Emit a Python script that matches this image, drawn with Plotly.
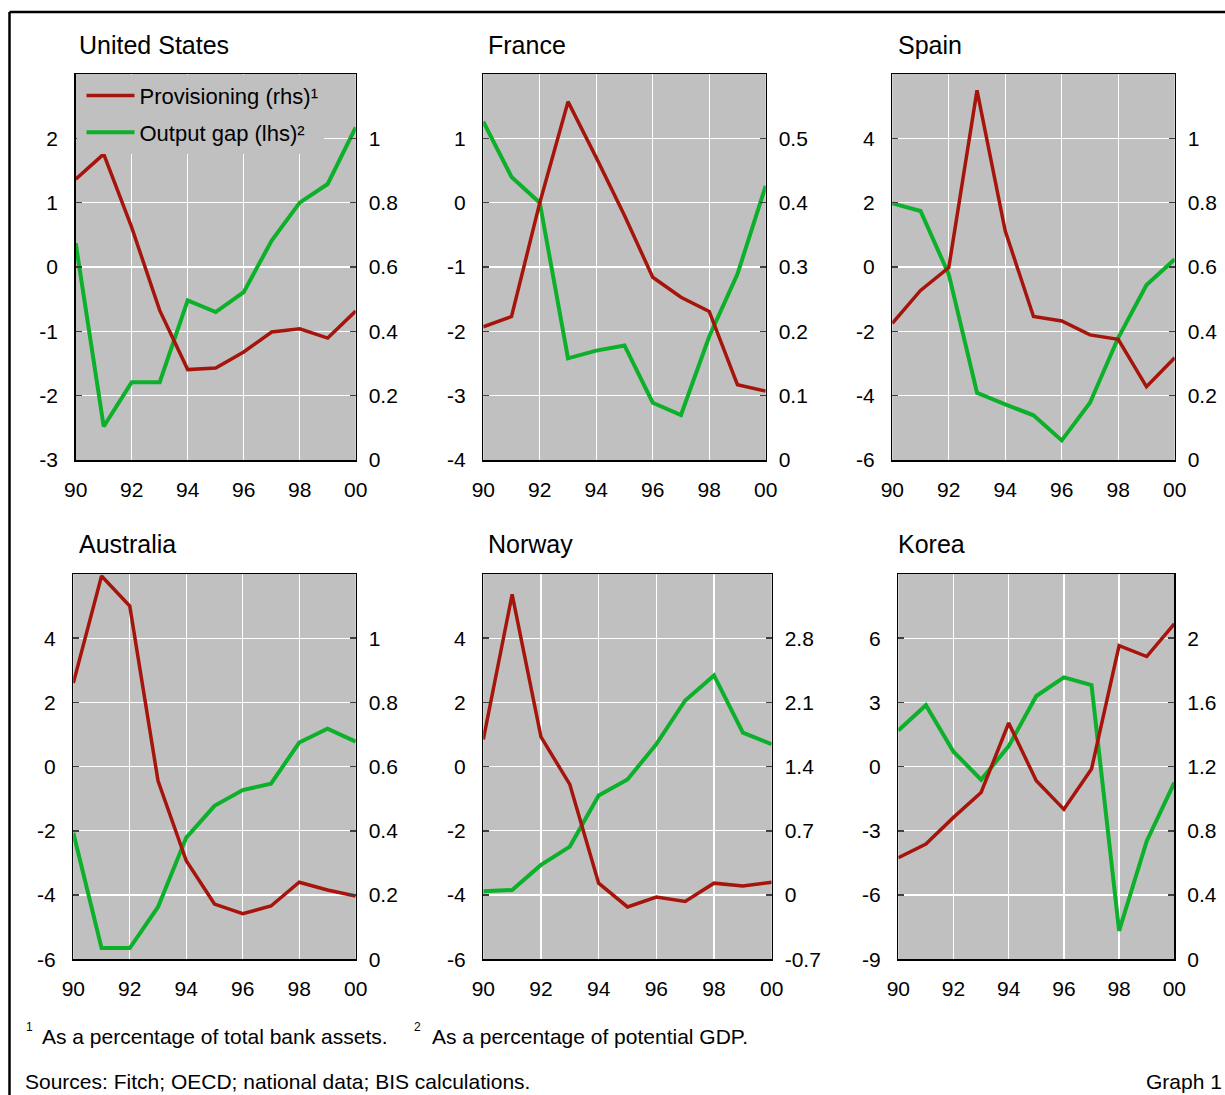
import plotly.graph_objects as go

W, H = 1225, 1095
FONT = "Arial, Liberation Sans, sans-serif"
RED = "#A5150C"
GREEN = "#0DB02B"
BG = "#c0c0c0"

years = list(range(1990, 2001))
x_tickvals = [1990, 1992, 1994, 1996, 1998, 2000]
x_ticktext = ["90", "92", "94", "96", "98", "00"]

countries = ["United States", "France", "Spain", "Australia", "Norway", "Korea"]

# Output gap (lhs), % of potential GDP
us_gap = [0.37, -2.48, -1.79, -1.79, -0.52, -0.70, -0.39, 0.41, 1.00, 1.29, 2.17]
fr_gap = [1.26, 0.40, 0.00, -2.42, -2.30, -2.22, -3.11, -3.30, -2.08, -1.11, 0.26]
es_gap = [1.98, 1.74, -0.23, -3.91, -4.27, -4.61, -5.39, -4.22, -2.20, -0.56, 0.24]
au_gap = [-2.06, -5.65, -5.65, -4.37, -2.21, -1.22, -0.73, -0.53, 0.75, 1.18, 0.78]
no_gap = [-3.88, -3.84, -3.06, -2.49, -0.90, -0.40, 0.70, 2.06, 2.84, 1.06, 0.70]
kr_gap = [1.69, 2.87, 0.70, -0.61, 0.96, 3.30, 4.17, 3.81, -7.67, -3.48, -0.75]

# Provisioning (rhs), % of total bank assets
us_prov = [0.873, 0.951, 0.723, 0.465, 0.281, 0.286, 0.336, 0.398, 0.408, 0.379, 0.463]
fr_prov = [0.207, 0.223, 0.400, 0.557, 0.470, 0.380, 0.284, 0.253, 0.231, 0.117, 0.107]
es_prov = [0.425, 0.527, 0.598, 1.149, 0.712, 0.446, 0.432, 0.389, 0.375, 0.228, 0.318]
au_prov = [0.860, 1.194, 1.100, 0.556, 0.307, 0.172, 0.142, 0.166, 0.240, 0.216, 0.197]
no_prov = [1.696, 3.278, 1.724, 1.206, 0.130, -0.129, -0.022, -0.070, 0.130, 0.100, 0.140]
kr_prov = [0.633, 0.718, 0.884, 1.039, 1.472, 1.112, 0.934, 1.185, 1.954, 1.886, 2.090]

gaps = [us_gap, fr_gap, es_gap, au_gap, no_gap, kr_gap]
provs = [us_prov, fr_prov, es_prov, au_prov, no_prov, kr_prov]

left_ranges = [[-3, 3], [-4, 2], [-6, 6], [-6, 6], [-6, 6], [-9, 9]]
left_ticks = [
    [-3, -2, -1, 0, 1, 2],
    [-4, -3, -2, -1, 0, 1],
    [-6, -4, -2, 0, 2, 4],
    [-6, -4, -2, 0, 2, 4],
    [-6, -4, -2, 0, 2, 4],
    [-9, -6, -3, 0, 3, 6],
]
right_ranges = [[0, 1.2], [0, 0.6], [0, 1.2], [0, 1.2], [-0.7, 3.5], [0, 2.4]]
right_ticks = [
    [0, 0.2, 0.4, 0.6, 0.8, 1.0],
    [0, 0.1, 0.2, 0.3, 0.4, 0.5],
    [0, 0.2, 0.4, 0.6, 0.8, 1.0],
    [0, 0.2, 0.4, 0.6, 0.8, 1.0],
    [-0.7, 0, 0.7, 1.4, 2.1, 2.8],
    [0, 0.4, 0.8, 1.2, 1.6, 2.0],
]
right_labels = [
    ["0", "0.2", "0.4", "0.6", "0.8", "1"],
    ["0", "0.1", "0.2", "0.3", "0.4", "0.5"],
    ["0", "0.2", "0.4", "0.6", "0.8", "1"],
    ["0", "0.2", "0.4", "0.6", "0.8", "1"],
    ["-0.7", "0", "0.7", "1.4", "2.1", "2.8"],
    ["0", "0.4", "0.8", "1.2", "1.6", "2"],
]

# panel boxes in pixels: (x0, x1, y0_top, y1_bottom)
boxes = [
    (75.7, 355.7, 74, 460),
    (483.3, 765.7, 74, 460),
    (892.3, 1174.7, 74, 460),
    (73.3, 355.7, 574, 959.3),
    (483.3, 771.7, 574, 959.3),
    (898.3, 1174.3, 574, 959.3),
]
title_pos = [(77, 45), (486, 45), (896, 45), (77, 544), (486, 544), (896, 544)]


def px(x):
    return x / W


def py(y):
    return 1 - y / H


fig = go.Figure()
layout = dict(
    width=W, height=H,
    margin=dict(l=0, r=0, t=0, b=0),
    paper_bgcolor="white",
    plot_bgcolor=BG,
    font=dict(family=FONT, size=21, color="black"),
    showlegend=True,
    template="none",
)

tickfont = dict(family=FONT, size=21, color="black")

for i in range(6):
    n = i + 1
    xa = "xaxis" if n == 1 else f"xaxis{n}"
    xr = "x" if n == 1 else f"x{n}"
    yl_n, yr_n = 2 * n - 1, 2 * n
    yl = "yaxis" if yl_n == 1 else f"yaxis{yl_n}"
    ylr = "y" if yl_n == 1 else f"y{yl_n}"
    yr = f"yaxis{yr_n}"
    yrr = f"y{yr_n}"
    x0, x1, ytop, ybot = boxes[i]

    layout[xa] = dict(
        domain=[px(x0), px(x1)], anchor=ylr, range=[1990, 2000],
        tickmode="array", tickvals=x_tickvals, ticktext=x_ticktext,
        showgrid=True, gridcolor="white", gridwidth=1.2,
        showline=True, linecolor="black", linewidth=1.5, mirror=True,
        ticks="", ticklabelstandoff=10, tickfont=tickfont,
        zeroline=False, automargin=False, fixedrange=True,
    )
    layout[yl] = dict(
        domain=[py(ybot), py(ytop)], anchor=xr, range=left_ranges[i],
        tickmode="array", tickvals=left_ticks[i],
        ticktext=[str(v) for v in left_ticks[i]],
        showgrid=True, gridcolor="white", gridwidth=1.2,
        showline=True, linecolor="black", linewidth=1.5, mirror=True,
        ticks="inside", ticklen=6, tickwidth=1.5, tickcolor="#404040",
        ticklabelstandoff=12, tickfont=tickfont,
        zeroline=False, automargin=False, fixedrange=True,
    )
    layout[yr] = dict(
        overlaying=ylr, side="right", anchor=xr, range=right_ranges[i],
        tickmode="array", tickvals=right_ticks[i], ticktext=right_labels[i],
        showgrid=False, showline=False,
        ticks="inside", ticklen=6, tickwidth=1.5, tickcolor="#404040",
        ticklabelstandoff=12, tickfont=tickfont,
        zeroline=False, automargin=False, fixedrange=True,
    )

    fig.add_trace(go.Scatter(
        x=years, y=provs[i], xaxis=xr, yaxis=yrr, mode="lines",
        line=dict(color=RED, width=3.5),
        name="Provisioning (rhs)¹", legendgroup="prov", showlegend=(n == 1),
        hoverinfo="skip",
    ))
    fig.add_trace(go.Scatter(
        x=years, y=gaps[i], xaxis=xr, yaxis=ylr, mode="lines",
        line=dict(color=GREEN, width=4),
        name="Output gap (lhs)²", legendgroup="gap", showlegend=(n == 1),
        hoverinfo="skip",
    ))

annotations = []
for i, name in enumerate(countries):
    tx, ty = title_pos[i]
    annotations.append(dict(
        text=name, xref="paper", yref="paper", x=px(tx), y=py(ty),
        xanchor="left", yanchor="middle", showarrow=False,
        font=dict(family=FONT, size=25, color="black"),
    ))

foot = [
    ("1", 24, 1027, 12, "left"),
    ("As a percentage of total bank assets.", 40, 1036, 21, "left"),
    ("2", 412, 1027, 12, "left"),
    ("As a percentage of potential GDP.", 430, 1036, 21, "left"),
    ("Sources: Fitch; OECD; national data; BIS calculations.", 23, 1081, 21, "left"),
]
for t, fx, fy, fs, anc in foot:
    annotations.append(dict(
        text=t, xref="paper", yref="paper", x=px(fx), y=py(fy),
        xanchor=anc, yanchor="middle", showarrow=False,
        font=dict(family=FONT, size=fs, color="black"),
    ))
annotations.append(dict(
    text="Graph 1", xref="paper", yref="paper", x=px(1224), y=py(1081),
    xanchor="right", yanchor="middle", showarrow=False,
    font=dict(family=FONT, size=21, color="black"),
))
layout["annotations"] = annotations

layout["shapes"] = [
    dict(type="line", xref="paper", yref="paper", x0=px(9.5), x1=1, y0=py(12), y1=py(12),
         line=dict(color="black", width=2.5)),
    dict(type="line", xref="paper", yref="paper", x0=px(9.5), x1=px(9.5), y0=py(12), y1=0,
         line=dict(color="black", width=2.5)),
]

layout["legend"] = dict(
    x=px(76.5), y=py(74.8), xanchor="left", yanchor="top",
    bgcolor=BG, borderwidth=0, indentation=5,
    font=dict(family=FONT, size=22, color="black"),
    itemwidth=48, tracegroupgap=5, traceorder="grouped",
)

fig.update_layout(**layout)
fig.write_html(
    "out.html",
    config={"displayModeBar": False, "staticPlot": True},
    post_script="document.body.style.margin='0px';document.body.style.padding='0px';",
)
